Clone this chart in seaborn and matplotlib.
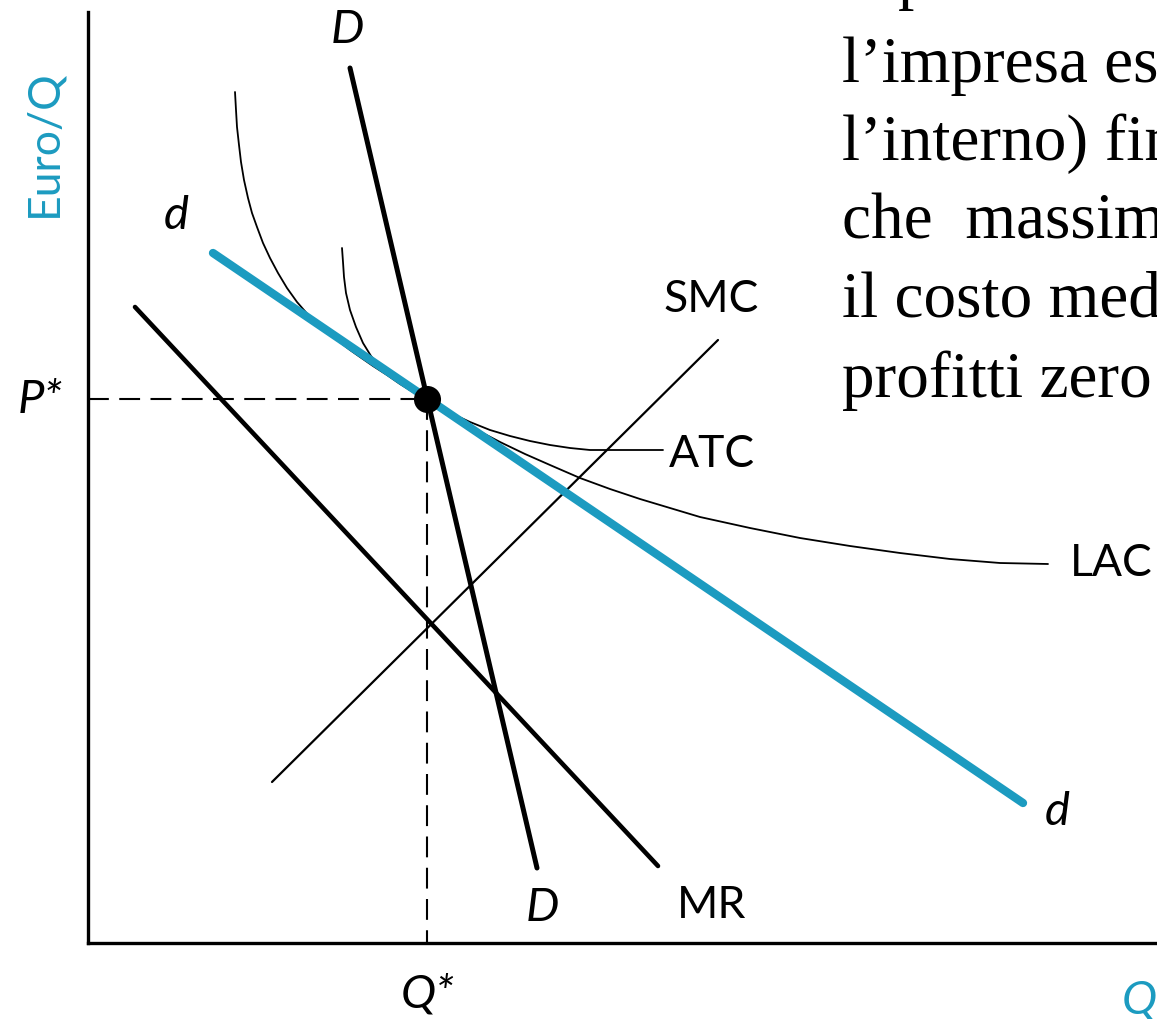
import matplotlib
matplotlib.use("Agg")
import matplotlib.pyplot as plt
import seaborn as sns
import pandas as pd

sns.set_theme(style="white")
plt.rcParams['font.family'] = ['Lato', 'DejaVu Sans']

TEAL = "#1c9bc0"

# ---- data (Q, Euro/Q); origin at the axes corner ----
D_q = [262, 449]
D_p = [875, 75]
d_q = [125, 935]
d_p = [690, 140]
MR_q = [47, 570]
MR_p = [636, 77]
SMC_q = [184, 630]
SMC_p = [161, 603]
LAC_q = [147, 148, 149, 151, 153, 156, 160, 164, 169, 175, 182, 190, 199, 209,
         222, 235, 249, 262, 272, 285, 299, 312, 325, 339, 362, 387, 412, 437,
         462, 492, 522, 552, 582, 612, 662, 712, 762, 812, 862, 912, 960]
LAC_p = [851, 833, 816, 798, 781, 763, 745, 730, 716, 700, 685, 670, 655, 641,
         626, 614, 603, 593, 586, 577, 568, 559, 551, 544, 529, 514, 501, 489,
         478, 465, 454, 444, 435, 426, 415, 405, 397, 390, 384, 380, 379]
ATC_q = [254, 255, 256, 258, 262, 268, 275, 283, 292, 302, 312, 322, 332, 339,
         352, 367, 382, 402, 422, 442, 462, 482, 502, 519, 575]
ATC_p = [695, 681, 666, 650, 633, 616, 600, 587, 576, 567, 560, 553, 547, 544,
         536, 528, 521, 513, 507, 502, 498, 495, 493, 493, 493]
Q_star = 339
P_star = 544

text_lines = [
    "Il prezzo scende e",
    "l\u2019impresa esce (o entra dal-",
    "l\u2019interno) fino alla quantità",
    "che  massimizza i profitti, dove",
    "il costo medio è uguale al prezzo:",
    "profitti zero",
]

fig = plt.figure(figsize=(11.57, 10.19), dpi=100)
ax = fig.add_axes([0, 0, 1, 1])

def line(q, p, **kw):
    df = pd.DataFrame({"q": q, "p": p})
    sns.lineplot(data=df, x="q", y="p", sort=False, estimator=None, ax=ax, **kw)

# dashed guides
line([0, Q_star], [P_star, P_star], color="black", lw=1.5, dashes=(10, 5))
line([Q_star, Q_star], [P_star, 0], color="black", lw=1.5, dashes=(10, 5))

line(LAC_q, LAC_p, color="black", lw=1.3)
line(ATC_q, ATC_p, color="black", lw=1.3)
line(SMC_q, SMC_p, color="black", lw=1.6)
line(MR_q, MR_p, color="black", lw=3.3, solid_capstyle="round")
line(d_q, d_p, color=TEAL, lw=6, solid_capstyle="round")
line(D_q, D_p, color="black", lw=3.6, solid_capstyle="round")

sns.scatterplot(x=[Q_star], y=[P_star], color="black", s=380, ax=ax, zorder=10,
                edgecolor="black", linewidth=0)

ax.set_xlim(-88, 1069)
ax.set_ylim(-76, 943)
for s in ["top", "right"]:
    ax.spines[s].set_visible(False)
ax.spines["left"].set_position(("data", 0))
ax.spines["bottom"].set_position(("data", 0))
ax.spines["left"].set_bounds(0, 931)
ax.spines["bottom"].set_bounds(0, 1069)
for s in ["left", "bottom"]:
    ax.spines[s].set_linewidth(2.4)
    ax.spines[s].set_color("black")
ax.set_xticks([])
ax.set_yticks([])
ax.set_xlabel("")
ax.set_ylabel("")

lab = dict(fontsize=32, fontweight="normal", color="black")
ital = dict(fontsize=34, style="italic", color="black")
ax.text(259, 913, "D", ha="center", va="center", **ital)
ax.text(454, 35, "D", ha="center", va="center", **ital)
ax.text(88, 727, "d", ha="center", va="center", **ital)
ax.text(969, 131, "d", ha="center", va="center", **ital)
ax.text(-48, 543, "P*", ha="center", va="center", **ital)
ax.text(340, -52, "Q*", ha="center", va="center", **ital)
ax.text(1034, -57, "Q", ha="left", va="center", fontsize=34, style="italic", color=TEAL)
ax.text(-44, 800, "Euro/Q", ha="center", va="center", rotation=90,
        fontsize=32, fontweight="normal", color=TEAL)
ax.text(623, 644, "SMC", ha="center", va="center", **lab)
ax.text(581, 489, "ATC", ha="left", va="center", **lab)
ax.text(982, 379, "LAC", ha="left", va="center", **lab)
ax.text(624, 38, "MR", ha="center", va="center", **lab)

baselines = [946, 861, 783, 705, 626, 546]
for t, y in zip(text_lines, baselines):
    ax.text(754, y, t, ha="left", va="baseline", fontsize=47,
            family=["Liberation Serif", "DejaVu Serif"], color="black", clip_on=False)

fig.savefig("out.png", dpi=100)
